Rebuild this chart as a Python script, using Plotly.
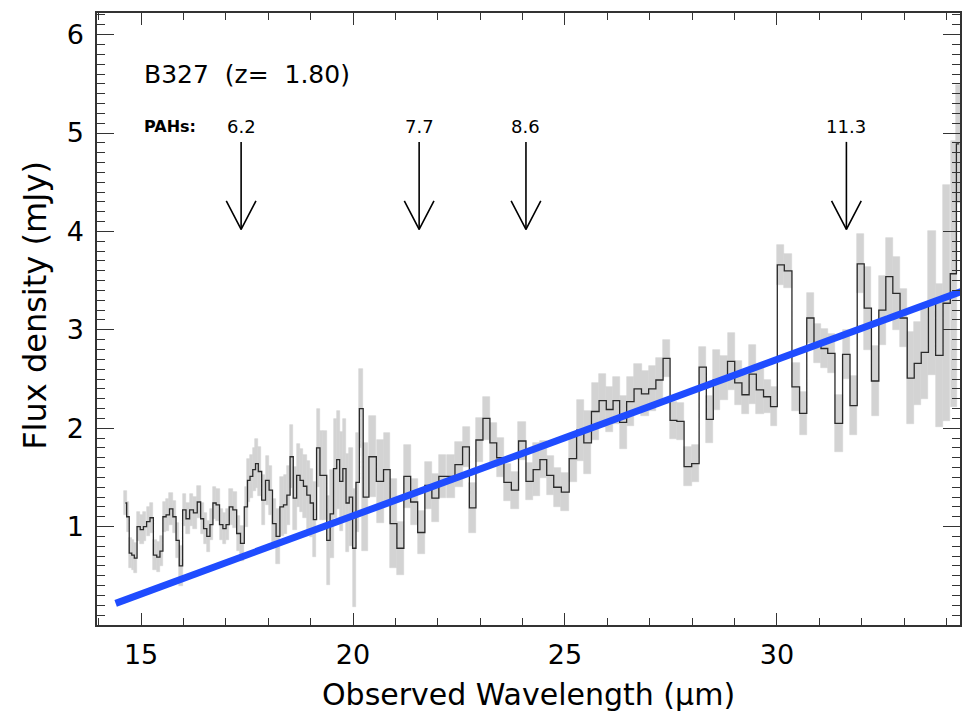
import numpy as np
import plotly.graph_objects as go

# ---------------- data ----------------
wave = [14.63, 14.69, 14.75, 14.81, 14.87, 14.94, 15.02, 15.09, 15.17, 15.25,
        15.33, 15.41, 15.48, 15.55, 15.63, 15.71, 15.79, 15.86, 15.94, 16.02,
        16.10, 16.19, 16.28, 16.37, 16.44, 16.51, 16.59, 16.66, 16.73, 16.81,
        16.89, 16.97, 17.04, 17.12, 17.21, 17.30, 17.39, 17.48, 17.54, 17.60,
        17.67, 17.73, 17.80, 17.89, 17.98, 18.06, 18.14, 18.23, 18.32, 18.40,
        18.48, 18.55, 18.63, 18.71, 18.79, 18.87, 18.95, 19.03, 19.10, 19.18,
        19.26, 19.34, 19.42, 19.50, 19.58, 19.65, 19.72, 19.80, 19.87, 19.95,
        20.03, 20.11, 20.19, 20.29,
        20.46, 20.64, 20.80, 20.95, 21.12, 21.28, 21.44, 21.61, 21.78, 21.94,
        22.11, 22.31, 22.50, 22.67, 22.82, 22.98, 23.15, 23.31, 23.47, 23.65,
        23.82, 23.99, 24.17, 24.33, 24.49, 24.65, 24.82, 25.01, 25.19, 25.36,
        25.53, 25.72, 25.89, 26.06, 26.21, 26.37, 26.54, 26.72, 26.89, 27.06,
        27.23, 27.40, 27.56, 27.72, 27.90, 28.08, 28.25, 28.42, 28.58, 28.75,
        28.92, 29.09, 29.26, 29.43, 29.60, 29.77, 29.93, 30.09, 30.26, 30.45,
        30.62, 30.79, 30.96, 31.12, 31.28, 31.46, 31.64, 31.81, 31.98, 32.14,
        32.32, 32.49, 32.65, 32.82, 32.99, 33.16, 33.32, 33.49, 33.66, 33.83,
        34.01, 34.17, 34.30]

flux = [1.24, 1.10, 0.73, 0.71, 0.68, 1.00, 0.97, 1.00, 1.05, 1.09,
        0.71, 0.69, 0.75, 1.10, 1.12, 1.18, 1.10, 0.86, 0.60, 1.17,
        1.08, 1.17, 1.14, 1.25, 1.08, 0.98, 0.90, 1.02, 1.24, 1.22,
        1.02, 0.98, 1.02, 1.20, 1.17, 0.93, 0.83, 1.20, 1.47, 1.51,
        1.58, 1.64, 1.56, 1.27, 1.47, 1.37, 1.03, 0.90, 1.20, 1.22,
        1.32, 1.71, 1.29, 1.52, 1.47, 1.41, 1.32, 1.24, 1.07, 1.80,
        1.52, 1.52, 0.86, 1.13, 1.59, 1.68, 1.46, 1.59, 1.24, 1.30,
        0.78, 1.45, 2.20, 1.30,
        1.71, 1.46, 1.58, 1.03, 0.78, 1.51, 1.25, 0.94, 1.42, 1.29,
        1.51, 1.51, 1.63, 1.81, 1.19, 1.88, 2.10, 1.85, 1.70, 1.45,
        1.37, 1.87, 1.46, 1.58, 1.68, 1.52, 1.40, 1.35, 1.69, 1.98,
        1.85, 2.17, 2.28, 2.19, 2.28, 2.06, 2.27, 2.40, 2.35, 2.40,
        2.49, 2.71, 2.08, 2.07, 1.61, 1.64, 2.62, 2.09, 2.49, 2.51,
        2.68, 2.46, 2.34, 2.55, 2.39, 2.32, 2.22, 3.66, 3.60, 2.42,
        2.15, 3.12, 2.86, 2.81, 2.76, 2.05, 2.75, 2.23, 3.67, 3.22,
        2.48, 3.20, 3.54, 3.37, 3.12, 2.51, 2.66, 2.77, 3.27, 2.74,
        3.27, 3.57, 4.89]

err = [0.12, 0.15, 0.15, 0.15, 0.15, 0.15, 0.15, 0.15, 0.15, 0.15,
       0.15, 0.15, 0.15, 0.15, 0.16, 0.16, 0.16, 0.18, 0.20, 0.16,
       0.16, 0.16, 0.16, 0.16, 0.16, 0.16, 0.16, 0.16, 0.16, 0.16,
       0.16, 0.16, 0.16, 0.18, 0.18, 0.18, 0.18, 0.20, 0.22, 0.22,
       0.22, 0.25, 0.25, 0.25, 0.25, 0.25, 0.25, 0.28, 0.30, 0.30,
       0.30, 0.32, 0.32, 0.32, 0.32, 0.32, 0.35, 0.35, 0.38, 0.40,
       0.45, 0.45, 0.45, 0.45, 0.50, 0.50, 0.50, 0.50, 0.50, 0.50,
       0.60, 0.50, 0.40, 0.55,
       0.41, 0.42, 0.37, 0.45, 0.27, 0.32, 0.23, 0.22, 0.24, 0.24,
       0.22, 0.22, 0.23, 0.20, 0.25, 0.22, 0.22, 0.20, 0.20, 0.19,
       0.19, 0.19, 0.19, 0.27, 0.19, 0.20, 0.20, 0.19, 0.24, 0.31,
       0.32, 0.29, 0.27, 0.23, 0.24, 0.27, 0.25, 0.25, 0.23, 0.23,
       0.22, 0.19, 0.19, 0.19, 0.20, 0.19, 0.21, 0.24, 0.30, 0.22,
       0.29, 0.22, 0.20, 0.30, 0.25, 0.17, 0.20, 0.20, 0.17, 0.24,
       0.22, 0.25, 0.20, 0.20, 0.20, 0.29, 0.25, 0.30, 0.30, 0.42,
       0.36, 0.35, 0.39, 0.37, 0.29, 0.47, 0.42, 0.47, 0.73, 0.73,
       1.20, 1.35, 0.60]

redshift = 1.80
pah_rest = [6.2, 7.7, 8.6, 11.3]
pah_labels = ["6.2", "7.7", "8.6", "11.3"]

fit_wave = [14.40, 34.36]
fit_flux = [0.22, 3.39]

# ---------------- derived geometry ----------------
w = np.array(wave)
f = np.array(flux)
e = np.array(err)
edges = np.concatenate([[w[0] - (w[1] - w[0]) / 2], (w[1:] + w[:-1]) / 2,
                        [w[-1] + (w[-1] - w[-2]) / 2]])
widths = np.diff(edges)

FONT = "DejaVu Sans"
GRAY = "#d3d3d3"

fig = go.Figure()

# gray error boxes
fig.add_trace(go.Bar(x=w, y=2 * e, base=f - e, width=widths,
                     marker=dict(color=GRAY, line=dict(width=0.6, color=GRAY)),
                     hoverinfo="skip", showlegend=False))

# histogram spectrum
fig.add_trace(go.Scatter(x=w, y=f, mode="lines",
                         line=dict(color="#2a2a2a", width=1.3, shape="hvh"),
                         showlegend=False))

# continuum fit
fig.add_trace(go.Scatter(x=fit_wave, y=fit_flux, mode="lines",
                         line=dict(color="#1f4cff", width=7),
                         showlegend=False))

# PAH arrows
ax, ay = [], []
top_y, tip_y, head_dy, head_dx = 4.91, 4.02, 0.29, 0.35
for r in pah_rest:
    lam = r * (1 + redshift)
    ax += [lam, lam, None, lam - head_dx, lam, lam + head_dx, None]
    ay += [top_y, tip_y, None, tip_y + head_dy, tip_y, tip_y + head_dy, None]
fig.add_trace(go.Scatter(x=ax, y=ay, mode="lines",
                         line=dict(color="black", width=1.6),
                         showlegend=False))

annots = [dict(x=15.02, y=5.59, text="B327  (z=  1.80)", xanchor="left",
               font=dict(size=25)),
          dict(x=15.02, y=5.07, text="<b>PAHs:</b>", xanchor="left",
               font=dict(size=16)),
          ]
for r, lab in zip(pah_rest, pah_labels):
    annots.append(dict(x=r * (1 + redshift), y=5.07, text=lab,
                       xanchor="center", font=dict(size=18)))
for a in annots:
    a.update(xref="x", yref="y", showarrow=False, yanchor="middle")
    a["font"].update(family=FONT, color="black")

# axis titles
annots.append(dict(xref="paper", yref="paper", x=0.5, y=-0.114,
                   text="Observed Wavelength (μm)", showarrow=False,
                   xanchor="center", yanchor="middle",
                   font=dict(family=FONT, size=30, color="black")))
annots.append(dict(xref="paper", yref="paper", x=-0.072, y=0.523,
                   text="Flux density (mJy)", showarrow=False, textangle=-90,
                   xanchor="center", yanchor="middle",
                   font=dict(family=FONT, size=32, color="black")))

fig.update_layout(
    width=962, height=723,
    margin=dict(l=97, r=2, t=13, b=98, autoexpand=False),
    paper_bgcolor="white", plot_bgcolor="white",
    barmode="overlay", bargap=0,
    annotations=annots,
    font=dict(family=FONT, color="black"),
)

fig.update_xaxes(
    range=[13.96, 34.32], tickvals=[15, 20, 25, 30],
    ticks="inside", ticklen=12, tickwidth=1.2, tickcolor="#333",
    minor=dict(ticks="inside", ticklen=7, dtick=1, tick0=0,
               tickcolor="#333", tickwidth=1.2),
    showline=True, linecolor="#333", linewidth=1.5, mirror="allticks",
    showgrid=False, zeroline=False, automargin=False,
    tickfont=dict(size=27, family=FONT), ticklabelstandoff=5,
)
fig.update_yaxes(
    range=[0, 6.22], tickvals=[1, 2, 3, 4, 5, 6],
    ticks="inside", ticklen=17, tickwidth=1.2, tickcolor="#333",
    minor=dict(ticks="inside", ticklen=8, dtick=0.1, tick0=0,
               tickcolor="#333", tickwidth=1.2),
    showline=True, linecolor="#333", linewidth=1.5, mirror="allticks",
    showgrid=False, zeroline=False, automargin=False,
    tickfont=dict(size=27, family=FONT), ticklabelstandoff=6,
)

fig.write_html("out.html",
               config={"displayModeBar": False},
               post_script="document.body.style.margin='0';"
                           "document.body.style.overflow='hidden';")
